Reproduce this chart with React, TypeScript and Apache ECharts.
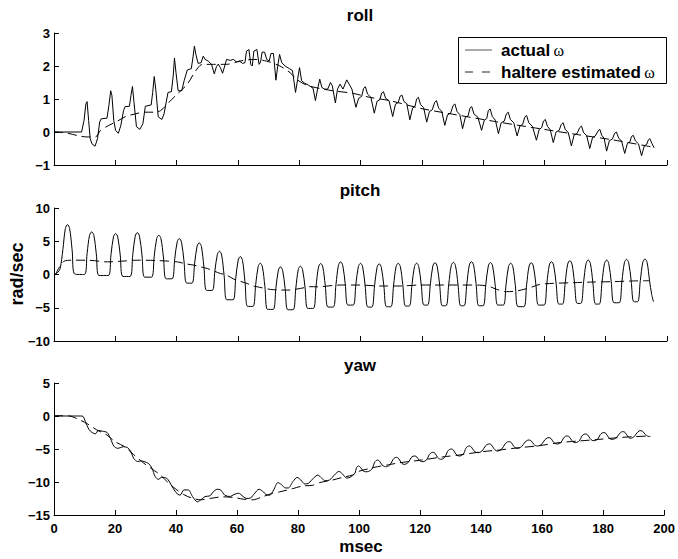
import React, { useEffect, useRef } from 'react';
import * as echarts from 'echarts';

type P = [number, number];

const panelTitles = ['roll', 'pitch', 'yaw'];
const legendLabels = ['actual', 'haltere estimated'];
const xLabel = 'msec';
const yLabel = 'rad/sec';

const rollActual: P[] = [
  [0, 0], [9.0, 0], [9.8, 0.35], [10.4, 0.85], [10.8, 0.92], [11.3, 0.35], [11.8, -0.2], [12.4, -0.36], [13.4, -0.43], [14.2, -0.2], [14.9, 0.3], [15.4, 0.4], [17.3, 0.42], [17.9, 0.8], [18.5, 1.25], [18.9, 1.1], [19.5, 0.35], [20.1, 0.05], [21.0, -0.04], [21.8, 0.2], [22.7, 0.65], [23.2, 0.77], [24.6, 0.78], [25.1, 1.1], [25.6, 1.38], [26.1, 0.9], [26.9, 0.16], [28.0, 0.08], [29.0, 0.25], [29.8, 0.78], [31.7, 0.82], [32.2, 1.2], [32.7, 1.68], [33.2, 1.3], [34.0, 0.46], [35.2, 0.38], [35.9, 0.55], [36.5, 0.85], [37.2, 1.2], [38.3, 1.22], [38.9, 1.7], [39.3, 2.24], [39.8, 1.8], [40.5, 1.25], [41.7, 1.25], [42.5, 1.57], [43.5, 1.88], [44.8, 1.92], [45.4, 2.3], [45.8, 2.6], [46.3, 2.35], [47.0, 2.08], [48.0, 2.1], [48.7, 2.3], [49.3, 2.2], [50.3, 2.15], [51.4, 2.05], [52.3, 1.76], [53.0, 1.98], [53.6, 2.06], [54.3, 1.95], [55.0, 1.78], [55.7, 2.0], [56.3, 2.2], [57.5, 2.17], [58.5, 2.2], [59.6, 2.12], [60.5, 2.15], [61.5, 2.08], [62.3, 2.1], [62.8, 2.45], [63.6, 2.5], [64.2, 2.05], [64.7, 2.0], [65.2, 2.45], [66.2, 2.5], [66.9, 2.05], [67.4, 2.12], [67.9, 2.42], [68.7, 2.42], [69.4, 2.2], [70.2, 2.15], [70.8, 2.38], [71.6, 2.38], [72.4, 1.57], [73.0, 2.0], [73.6, 2.35], [74.3, 2.1], [75.4, 2.0], [76.8, 1.92], [77.8, 1.86], [78.8, 1.2], [79.5, 1.6], [80.1, 1.95], [80.8, 1.55], [81.8, 1.48], [83.0, 1.42], [84.5, 1.33], [85.3, 0.95], [86.0, 1.3], [86.7, 1.6], [87.4, 1.35], [88.3, 1.3], [89.3, 1.3], [90.2, 1.5], [90.8, 1.4], [91.8, 0.88], [92.5, 1.3], [93.3, 1.45], [94.3, 1.3], [95.5, 1.58], [96.3, 1.45], [97.2, 1.3], [98.5, 0.75],
  [99.4, 1.02], [100.4, 1.08], [101.0, 1.32], [101.6, 1.37], [102.3, 1.15], [103.4, 1.05], [104.5, 0.57],
  [105.4, 0.93], [106.3, 0.98], [106.9, 1.18], [107.5, 1.22], [108.2, 1.02], [109.3, 0.95], [110.5, 0.47],
  [111.4, 0.84], [112.3, 0.89], [112.9, 1.08], [113.5, 1.12], [114.2, 0.92], [115.1, 0.86], [116.1, 0.37],
  [117.0, 0.73], [117.8, 0.78], [118.3, 1.0], [118.9, 1.05], [119.6, 0.83], [120.6, 0.74], [121.6, 0.3],
  [122.5, 0.62], [123.4, 0.67], [124.2, 0.9], [124.8, 0.95], [125.5, 0.72], [126.5, 0.63], [127.5, 0.2],
  [128.4, 0.52], [129.4, 0.57], [130.2, 0.8], [130.8, 0.85], [131.5, 0.62], [132.4, 0.53], [133.3, 0.1],
  [134.2, 0.44], [135.1, 0.49], [135.7, 0.72], [136.3, 0.77], [137.0, 0.55], [138.3, 0.45], [139.5, 0.05],
  [140.4, 0.36], [141.2, 0.41], [141.7, 0.65], [142.3, 0.7], [143.0, 0.47], [144.0, 0.36], [145.0, -0.05],
  [145.9, 0.28], [146.9, 0.33], [147.6, 0.55], [148.2, 0.6], [148.9, 0.38], [150.0, 0.28], [151.1, -0.12],
  [152.0, 0.18], [152.9, 0.23], [153.6, 0.45], [154.2, 0.5], [154.9, 0.28], [156.1, 0.17], [157.4, -0.25],
  [158.3, 0.08], [159.1, 0.13], [159.7, 0.33], [160.3, 0.38], [161.0, 0.17], [161.9, 0.07], [162.9, -0.32],
  [163.8, 0.0], [164.8, 0.05], [165.5, 0.23], [166.1, 0.28], [166.8, 0.08], [167.8, -0.02], [168.8, -0.42],
  [169.7, -0.09], [170.7, -0.04], [171.5, 0.13], [172.1, 0.18], [172.8, -0.02], [173.8, -0.11], [174.8, -0.5],
  [175.7, -0.17], [176.6, -0.12], [177.5, 0.03], [178.1, 0.08], [178.7, -0.1], [179.5, -0.19], [180.3, -0.58],
  [181.2, -0.26], [182.2, -0.21], [182.9, -0.04], [183.5, 0.0], [184.2, -0.18], [185.2, -0.28], [186.2, -0.65],
  [187.1, -0.34], [187.9, -0.3], [188.4, -0.14], [189.0, -0.1], [189.7, -0.27], [190.7, -0.36], [191.7, -0.72],
  [192.6, -0.42], [193.4, -0.37], [193.9, -0.24], [194.4, -0.2], [195.1, -0.35], [195.8, -0.48],
];

const rollEstimated: P[] = [
  [0, 0], [4, -0.03], [8.3, -0.12], [10.8, -0.15], [13.5, -0.15], [15.2, 0.05], [17.9, 0.2], [20.7, 0.33], [23.4, 0.47], [26.6, 0.55], [29.3, 0.6], [32.6, 0.6], [34.8, 0.65], [37.5, 0.9], [40.2, 1.15], [43.5, 1.45], [46.2, 1.85], [48.4, 2.05], [52, 2.05], [56.3, 2.05], [60.7, 2.15], [65, 2.2], [69.3, 2.15], [73.7, 2.0], [77, 1.8], [79.1, 1.6], [82.4, 1.42], [86.7, 1.32], [91, 1.25], [97.6, 1.17], [103, 1.05], [109.6, 0.95], [119.4, 0.72], [131.3, 0.52], [144.4, 0.31], [158.5, 0.1], [171.6, -0.09], [182.4, -0.24], [195.5, -0.46],
];

const pitchActual: P[] = [
  [0, 0], [1.2, 0.3], [2.0, 0.9], [2.9, 3.75], [3.7, 6.9], [4.4, 7.5], [5.1, 6.9], [5.9, 3.75], [6.8, 0.05],
  [9.9, 0], [10.8, 3.2], [11.6, 5.9], [12.3, 6.4], [13.0, 5.88], [13.8, 3.13], [14.7, -0.15],
  [17.7, -0.15], [18.6, 3.0], [19.4, 5.65], [20.1, 6.15], [20.8, 5.63], [21.6, 2.93], [22.5, -0.3],
  [24.8, -0.3], [25.7, 3.0], [26.5, 5.77], [27.2, 6.3], [27.9, 5.76], [28.7, 2.95], [29.6, -0.4],
  [31.8, -0.4], [32.7, 2.75], [33.5, 5.4], [34.2, 5.9], [34.9, 5.38], [35.7, 2.63], [36.6, -0.65],
  [38.5, -0.65], [39.4, 2.38], [40.2, 4.92], [40.9, 5.4], [41.6, 4.86], [42.4, 2.05], [43.3, -1.3],
  [45.0, -1.3], [45.9, 1.73], [46.7, 4.27], [47.4, 4.75], [48.1, 4.18], [48.9, 1.18], [49.8, -2.4],
  [51.6, -2.4], [52.5, 0.55], [53.3, 3.03], [54.0, 3.5], [54.7, 2.92], [55.5, -0.15], [56.4, -3.8],
  [58.4, -3.8], [59.3, -0.55], [60.1, 2.18], [60.8, 2.7], [61.5, 2.1], [62.3, -1.05], [63.2, -4.8],
  [64.9, -4.8], [65.8, -1.55], [66.6, 1.18], [67.3, 1.7], [68.0, 1.14], [68.8, -1.78], [69.7, -5.25],
  [71.5, -5.25], [72.4, -2.05], [73.2, 0.64], [73.9, 1.15], [74.6, 0.63], [75.4, -2.08], [76.3, -5.3],
  [78.0, -5.3], [78.9, -2.03], [79.7, 0.73], [80.4, 1.25], [81.1, 0.74], [81.9, -1.93], [82.8, -5.1],
  [84.6, -5.1], [85.5, -1.73], [86.3, 1.11], [87.0, 1.65], [87.7, 1.13], [88.5, -1.63], [89.4, -4.9],
  [91.1, -4.9], [92.0, -1.5], [92.8, 1.36], [93.5, 1.9], [94.2, 1.38], [95.0, -1.35], [95.9, -4.6],
  [97.6, -4.6], [98.5, -1.46], [99.3, 1.18], [100.0, 1.68], [100.7, 1.15], [101.5, -1.61], [102.4, -4.9],
  [103.7, -4.9], [104.6, -1.65], [105.4, 1.08], [106.1, 1.6], [106.8, 1.08], [107.6, -1.63], [108.5, -4.85],
  [109.9, -4.85], [110.8, -1.59], [111.6, 1.16], [112.3, 1.68], [113.0, 1.17], [113.8, -1.54], [114.7, -4.75],
  [115.9, -4.75], [116.8, -1.53], [117.6, 1.18], [118.3, 1.7], [119.0, 1.2], [119.8, -1.45], [120.7, -4.6],
  [121.9, -4.6], [122.8, -1.41], [123.6, 1.27], [124.3, 1.78], [125.0, 1.26], [125.8, -1.46], [126.7, -4.7],
  [127.9, -4.7], [128.8, -1.44], [129.6, 1.31], [130.3, 1.83], [131.0, 1.31], [131.8, -1.44], [132.7, -4.7],
  [133.8, -4.7], [134.7, -1.39], [135.5, 1.4], [136.2, 1.93], [136.9, 1.4], [137.7, -1.39], [138.6, -4.7],
  [140.0, -4.7], [140.9, -1.45], [141.7, 1.28], [142.4, 1.8], [143.1, 1.29], [143.9, -1.4], [144.8, -4.6],
  [146.6, -4.6], [147.5, -1.45], [148.3, 1.2], [149.0, 1.7], [149.7, 1.18], [150.5, -1.57], [151.4, -4.84],
  [153.3, -4.84], [154.2, -1.53], [155.0, 1.25], [155.7, 1.78], [156.4, 1.27], [157.2, -1.41], [158.1, -4.6],
  [159.9, -4.6], [160.8, -1.34], [161.6, 1.41], [162.3, 1.93], [163.0, 1.42], [163.8, -1.26], [164.7, -4.45],
  [165.9, -4.45], [166.8, -1.19], [167.6, 1.56], [168.3, 2.08], [169.0, 1.57], [169.8, -1.14], [170.7, -4.35],
  [171.9, -4.35], [172.8, -1.09], [173.6, 1.66], [174.3, 2.18], [175.0, 1.65], [175.8, -1.14], [176.7, -4.45],
  [177.9, -4.45], [178.8, -1.14], [179.6, 1.65], [180.3, 2.18], [181.0, 1.66], [181.8, -1.04], [182.7, -4.25],
  [184.4, -4.25], [185.3, -0.99], [186.1, 1.76], [186.8, 2.28], [187.5, 1.77], [188.3, -0.91], [189.2, -4.1],
  [190.4, -4.1], [191.3, -0.89], [192.1, 1.82], [192.8, 2.33], [193.5, 1.82], [194.3, -0.89], [195.0, -3.0], [195.6, -4.1],
];

const pitchEstimated: P[] = [
  [0.5, 0], [1.5, 0.9], [3.3, 2.0], [6, 2.15], [10.9, 2.15], [17.4, 1.9], [22, 2.0], [27.2, 2.15], [33.7, 2.1], [40.2, 1.9], [43, 1.6], [45.7, 1.4], [47.6, 1.18], [50, 0.9], [54.3, 0.15], [56.3, -0.08], [58.7, -0.7], [63, -1.35], [65, -1.73], [66.3, -1.85], [70.7, -2.25], [73.7, -2.33], [76.1, -2.35], [80.4, -2.1], [83.5, -1.83], [85.9, -1.85], [92.4, -1.6], [95.4, -1.58], [99.8, -1.58], [106.3, -1.73], [112.9, -1.73], [119.4, -1.58], [125.9, -1.58], [131.3, -1.58], [138.9, -1.6], [142.2, -1.83], [144.4, -2.23], [147.6, -2.58], [149.8, -2.55], [152.5, -2.33], [156.3, -1.83], [158.5, -1.48], [162.9, -1.33], [169.4, -1.23], [175.9, -1.13], [182.4, -1.08], [187.9, -0.98], [194.4, -0.93],
];

const yawActual: P[] = [
  [0, 0], [9.2, 0], [10.3, -0.86], [11.4, -2.0], [12.5, -2.5], [13.6, -2.7], [14.5, -2.2], [15.8, -2.3], [17.4, -2.5], [18.5, -3.4], [19.6, -4.55], [20.9, -4.9], [21.7, -4.8], [22.8, -4.65], [24.1, -4.8], [25.2, -5.4], [26.1, -6.4], [27.4, -6.9], [28.5, -6.8], [29.5, -6.9], [31.0, -7.2], [32.1, -7.9], [33.2, -9.2], [34.2, -9.6], [35.3, -9.3], [37.0, -9.45], [38.6, -10.6], [40.0, -11.6], [41.3, -12.0], [42.6, -11.2], [44.0, -11.2], [45.4, -12.2], [47.0, -13.0], [48.4, -12.6], [49.5, -12.2], [51.1, -12.1], [52.2, -11.5], [53.5, -11.1], [54.6, -11.2], [56.0, -12.0], [57.6, -12.2], [59.0, -11.9], [60.5, -11.7], [62.0, -12.2], [63.2, -12.5], [64.5, -12.4], [65.8, -11.7], [67.2, -11.1], [68.4, -11.4], [69.5, -11.9], [70.7, -12.0], [72.0, -11.2], [73.4, -10.1], [74.6, -10.4], [75.8, -10.9], [76.8, -10.9], [78.3, -9.95], [79.7, -9.3], [80.9, -9.7], [82.2, -10.3], [83.4, -10.2], [85.3, -9.3], [86.5, -8.95], [87.7, -9.4], [88.9, -9.8], [90.3, -9.7], [92.2, -8.8], [93.4, -8.4], [94.6, -8.8], [95.9, -9.4], [97.0, -9.3],
  [98.6, -8.7], [99.2, -7.8], [99.8, -7.58], [100.5, -7.8], [101.3, -8.3], [102.2, -8.45], [103.1, -8.4],
  [104.3, -8.0], [105.0, -7.1], [105.6, -6.75], [106.1, -6.67], [106.7, -6.85], [107.5, -7.4], [108.3, -7.65], [109.0, -7.68],
  [110.3, -7.3], [111.1, -6.6], [111.7, -6.33], [112.3, -6.26], [112.9, -6.4], [113.7, -7.0], [114.4, -7.3], [115.0, -7.32],
  [116.2, -7.0], [117.0, -6.35], [117.7, -6.1], [118.3, -6.06], [118.9, -6.2], [119.7, -6.7], [120.4, -6.9], [121.0, -6.92],
  [122.2, -6.6], [123.0, -5.85], [123.7, -5.56], [124.3, -5.5], [124.9, -5.65], [125.7, -6.25], [126.4, -6.52], [127.0, -6.56],
  [128.2, -6.2], [129.0, -5.35], [129.7, -5.06], [130.3, -5.0], [130.9, -5.15], [131.7, -5.75], [132.4, -6.02], [133.0, -6.06],
  [134.2, -5.75], [135.0, -4.9], [135.6, -4.6], [136.2, -4.55], [136.8, -4.7], [137.6, -5.25], [138.4, -5.52], [139.0, -5.56],
  [140.3, -5.3], [141.4, -4.55], [142.2, -4.28], [142.8, -4.24], [143.4, -4.38], [144.2, -4.95], [144.9, -5.25], [145.5, -5.3],
  [146.8, -5.0], [147.9, -4.2], [148.7, -3.93], [149.3, -3.89], [149.9, -4.02], [150.7, -4.6], [151.4, -4.86], [152.0, -4.9],
  [153.3, -4.62], [154.4, -3.95], [155.2, -3.68], [155.8, -3.64], [156.4, -3.76], [157.2, -4.25], [157.9, -4.5], [158.5, -4.55],
  [159.8, -4.3], [160.9, -3.6], [161.7, -3.32], [162.3, -3.28], [162.9, -3.4], [163.7, -3.95], [164.4, -4.2], [165.0, -4.24],
  [166.2, -4.0], [167.0, -3.35], [167.7, -3.07], [168.3, -3.03], [168.9, -3.15], [169.7, -3.7], [170.4, -4.0], [171.0, -4.04],
  [172.2, -3.75], [173.0, -3.05], [173.7, -2.77], [174.3, -2.73], [174.9, -2.85], [175.7, -3.4], [176.4, -3.7], [177.0, -3.74],
  [178.2, -3.5], [179.0, -2.85], [179.7, -2.56], [180.3, -2.52], [180.9, -2.64], [181.7, -3.2], [182.4, -3.5], [183.0, -3.54],
  [184.3, -3.3], [185.3, -2.7], [186.0, -2.41], [186.6, -2.37], [187.2, -2.5], [188.0, -3.05], [188.6, -3.33], [189.0, -3.38],
  [190.1, -3.15], [191.1, -2.55], [191.8, -2.26], [192.4, -2.22], [193.0, -2.35], [193.8, -2.8], [194.6, -3.05], [195.5, -3.13],
];

const yawEstimated: P[] = [
  [0, 0.05], [5, 0.0], [8, -0.5], [11, -1.2], [14, -2.1], [17.4, -2.9], [20, -3.9], [23, -4.6], [26, -5.8], [29.3, -7.1], [32, -8.0], [34.5, -8.8], [37, -9.9], [40, -11.1], [42.5, -11.9], [45, -12.4], [48, -12.7], [51, -12.5], [55.4, -12.25], [59, -12.35], [62, -12.6], [65.2, -12.7], [68, -12.3], [71.7, -11.7], [73.9, -11.5], [78.3, -11.0], [81.5, -10.6], [84.8, -10.5], [87, -10.1], [91.3, -9.7], [94.6, -9.3], [97.8, -8.95], [99.8, -8.4], [104, -7.9], [106, -7.68], [109.6, -7.4], [113, -7.1], [120.5, -6.67], [127.5, -6.2], [133, -5.9], [140.5, -5.4], [146, -5.15], [152.5, -4.8], [159, -4.5], [165.5, -4.04], [172, -3.79], [178.6, -3.54], [185, -3.28], [190, -3.13], [195.5, -3.03],
];

const yRanges = [
  { min: -1, max: 3, interval: 1 },
  { min: -10, max: 10, interval: 5 },
  { min: -15, max: 5, interval: 5 },
];

const FONT = '"Liberation Sans", Arial, Helvetica, sans-serif';
const grids = [
  { left: 54, top: 33, width: 613, height: 132 },
  { left: 54, top: 208, width: 613, height: 133 },
  { left: 54, top: 383, width: 613, height: 132 },
];
const smoothing = [0, 0.35, 0.3];

export default function App() {
  const ref = useRef<HTMLDivElement>(null);
  useEffect(() => {
    const chart = echarts.init(ref.current!, null, { renderer: 'svg' });
    const axisLine = { show: true, onZero: false, lineStyle: { color: '#000', width: 1 } };
    const axisTick = { show: true, inside: true, length: 5, lineStyle: { color: '#000', width: 1 } };
    const fmt = (v: number) => String(v).replace('-', '\u2212');
    const solid = { color: '#000', width: 1 };
    const dashed = { color: '#000', width: 1, type: [9, 5] as any };
    const datasets = [
      [rollActual, rollEstimated],
      [pitchActual, pitchEstimated],
      [yawActual, yawEstimated],
    ];
    const series: any[] = [];
    datasets.forEach((pair, i) => {
      series.push({ type: 'line', xAxisIndex: i, yAxisIndex: i, data: pair[0], symbol: 'none', showSymbol: false, smooth: smoothing[i] || false, lineStyle: solid, silent: true, z: 3 });
      series.push({ type: 'line', xAxisIndex: i, yAxisIndex: i, data: pair[1], symbol: 'none', showSymbol: false, smooth: 0.3, lineStyle: dashed, silent: true, z: 2 });
    });
    const centered = { fill: '#000', fontFamily: FONT, fontWeight: 'bold', align: 'center', verticalAlign: 'middle', textAlign: 'center', textVerticalAlign: 'middle' };
    const titleTexts = panelTitles.map((t, i) => ({
      type: 'text', x: 360, y: grids[i].top - 18,
      style: { ...centered, text: t, fontSize: 17 },
    }));
    const rich = { b: { fontFamily: FONT, fontWeight: 'bold', fontSize: 17 }, w: { fontFamily: '"Liberation Serif", serif', fontSize: 16 } };
    chart.setOption({
      animation: false,
      backgroundColor: '#fff',
      grid: grids,
      xAxis: grids.map((_, i) => ({
        type: 'value', gridIndex: i, min: 0, max: 200, interval: 20,
        axisLine, axisTick, splitLine: { show: false },
        axisLabel: { show: i === 2, color: '#000', fontFamily: FONT, fontWeight: 'bold', fontSize: 13, margin: 7 },
      })),
      yAxis: grids.map((_, i) => ({
        type: 'value', gridIndex: i, min: yRanges[i].min, max: yRanges[i].max, interval: yRanges[i].interval,
        axisLine, axisTick, splitLine: { show: false },
        axisLabel: { color: '#000', fontFamily: FONT, fontWeight: 'bold', fontSize: 13, margin: 4, formatter: fmt },
      })),
      series,
      graphic: [
        ...titleTexts,
        { type: 'text', x: 361, y: 546, style: { ...centered, text: xLabel, fontSize: 17 } },
        { type: 'text', x: 17, y: 274, rotation: Math.PI / 2, style: { ...centered, text: yLabel, fontSize: 18 } },
        { type: 'rect', shape: { x: 458.5, y: 37.5, width: 208, height: 46 }, style: { fill: '#fff', stroke: '#000', lineWidth: 1 }, z: 10 },
        { type: 'line', shape: { x1: 465, y1: 50, x2: 492, y2: 50 }, style: { stroke: '#555', lineWidth: 1 }, z: 11 },
        { type: 'line', shape: { x1: 465, y1: 72, x2: 492, y2: 72 }, style: { stroke: '#222', lineWidth: 1, lineDash: [8, 9] }, z: 11 },
        { type: 'text', x: 501, y: 50, z: 11, style: { text: '{b|' + legendLabels[0] + '} {w|\u03c9}', fill: '#000', verticalAlign: 'middle', textVerticalAlign: 'middle', rich } },
        { type: 'text', x: 501, y: 72, z: 11, style: { text: '{b|' + legendLabels[1] + '} {w|\u03c9}', fill: '#000', verticalAlign: 'middle', textVerticalAlign: 'middle', rich } },
      ],
    });
    return () => chart.dispose();
  }, []);
  return <div ref={ref} style={{ position: 'fixed', left: 0, top: 0, width: 678, height: 559, background: '#fff' }} />;
}
